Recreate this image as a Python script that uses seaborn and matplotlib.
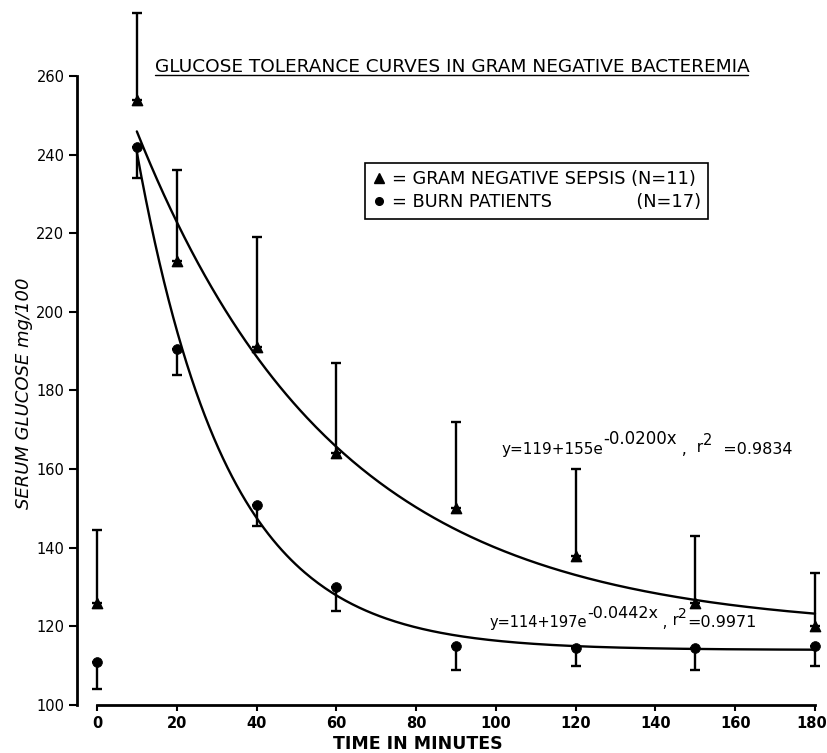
import numpy as np
import pandas as pd
import matplotlib
matplotlib.use("Agg")
import matplotlib.pyplot as plt
import matplotlib.transforms as mtransforms
import seaborn as sns
from matplotlib.lines import Line2D

# Sampling times (minutes) and group means with one-sided error extents (mg/100 ml)
time_points = [0, 10, 20, 40, 60, 90, 120, 150, 180]
sepsis_mean = [126, 254, 213, 191, 164, 150, 138, 126, 120]
sepsis_upper = [144.5, 276, 236, 219, 187, 172, 160, 143, 133.5]
burn_mean = [111, 242, 190.5, 151, 130, 115, 114.5, 114.5, 115]
burn_lower = [104, 234, 184, 145.5, 124, 109, 110, 109, 110]

# Fitted curves y = a + b * exp(-k x)
sepsis_fit = (119, 155, 0.0200)
burn_fit = (114, 197, 0.0442)
fit_range = (10, 180)

x_ticks = [0, 20, 40, 60, 80, 100, 120, 140, 160, 180]
y_ticks = [100, 120, 140, 160, 180, 200, 220, 240, 260]

sns.set_theme(style="ticks")
plt.rcParams["font.family"] = ["DejaVu Sans"]
plt.rcParams["text.color"] = "black"
plt.rcParams["axes.labelcolor"] = "black"
plt.rcParams["xtick.color"] = "black"
plt.rcParams["ytick.color"] = "black"

W, H = 828, 753
fig = plt.figure(figsize=(W / 100, H / 100), dpi=100)
fig.patch.set_facecolor("white")

def fx(px):
    return px / W

def fy(py):
    return 1 - py / H

ax = fig.add_axes([fx(77), fy(705), fx(823) - fx(77), fy(76) - fy(705)])
ax.set_facecolor("white")

# fitted exponential decay curves
xs = np.linspace(fit_range[0], fit_range[1], 300)
for a, b, k in (sepsis_fit, burn_fit):
    curve = pd.DataFrame({"t": xs, "g": a + b * np.exp(-k * xs)})
    sns.lineplot(data=curve, x="t", y="g", color="black", lw=1.7, ax=ax)

# error bars: upward for sepsis, downward for burns
t = np.array(time_points, dtype=float)
sm, su = np.array(sepsis_mean, float), np.array(sepsis_upper, float)
bm, bl = np.array(burn_mean, float), np.array(burn_lower, float)
eb1 = ax.errorbar(t, sm, yerr=[np.zeros_like(sm), su - sm], fmt="none",
                  ecolor="black", elinewidth=1.7, capsize=3.5, capthick=1.7)
eb2 = ax.errorbar(t, bm, yerr=[bm - bl, np.zeros_like(bm)], fmt="none",
                  ecolor="black", elinewidth=1.7, capsize=3.5, capthick=1.7)
for eb in (eb1, eb2):
    for cap in eb.lines[1]:
        cap.set_clip_on(False)
    for col in eb.lines[2]:
        col.set_clip_on(False)

# data points
sns.scatterplot(x=time_points, y=sepsis_mean, marker="^", s=55, color="black",
                edgecolor="black", linewidth=1.0, ax=ax, clip_on=False, zorder=5)
sns.scatterplot(x=time_points, y=burn_mean, marker="o", s=50, color="black",
                edgecolor="black", linewidth=0.5, ax=ax, clip_on=False, zorder=5)

ax.set_xlim(-5, 182)
ax.set_ylim(100, 260)
ax.set_xticks(x_ticks)
ax.set_yticks(y_ticks)
ax.set_xticklabels([str(v) for v in x_ticks], fontsize=10.5, fontweight="bold")
ax.set_yticklabels([str(v) for v in y_ticks], fontsize=10.5)
ax.set_xlabel("")
ax.set_ylabel("")
sns.despine(ax=ax)
ax.spines["left"].set_bounds(100, 260)
ax.spines["bottom"].set_bounds(0, 180)
for s in ("left", "bottom"):
    ax.spines[s].set_linewidth(2.0)
    ax.spines[s].set_color("black")
ax.tick_params(axis="y", direction="out", length=6, width=1.5, colors="black", pad=3)
ax.tick_params(axis="x", direction="out", length=4, width=1.5, colors="black", pad=4)
# keep the last x label inside the canvas
last = ax.get_xticklabels()[-1]
last.set_transform(last.get_transform() +
                   mtransforms.ScaledTranslation(-3 / 100, 0, fig.dpi_scale_trans))

# axis titles
fig.text(fx(418), fy(744), "TIME IN MINUTES", ha="center", va="center",
         fontsize=12.5, fontweight="bold")
fig.text(fx(24), fy(393), "SERUM GLUCOSE mg/100", ha="center", va="center",
         rotation=90, fontsize=13, style="italic")

# heading with underline
fig.text(fx(155), fy(72), "GLUCOSE TOLERANCE CURVES IN GRAM NEGATIVE BACTEREMIA",
         ha="left", va="baseline", fontsize=13.3)
fig.add_artist(Line2D([fx(155), fx(748)], [fy(75), fy(75)], color="black", lw=1.0))

# key
handles = [
    Line2D([], [], marker="^", color="black", linestyle="none", markersize=6.5),
    Line2D([], [], marker="o", color="black", linestyle="none", markersize=5.5),
]
labels = ["= GRAM NEGATIVE SEPSIS (N=11)", "= BURN PATIENTS               (N=17)"]
leg = ax.legend(handles, labels, loc="upper left",
                bbox_to_anchor=(fx(365), fy(163)), bbox_transform=fig.transFigure,
                borderaxespad=0, fontsize=12.8, frameon=True, fancybox=False,
                handlelength=0.8, handletextpad=0.3, borderpad=0.4,
                labelspacing=0.3)
leg.get_frame().set_edgecolor("black")
leg.get_frame().set_linewidth(1.2)
leg.get_frame().set_alpha(1)
for txt in leg.get_texts():
    txt.set_color("black")

# fit equations, built piece by piece; each piece is (text, size, rise in points)
def equation(x, y, pieces):
    base = ax.text(x, y, pieces[0][0], fontsize=pieces[0][1], ha="left",
                   va="bottom", color="black")
    prev = base
    for s, size, rise in pieces[1:]:
        prev = ax.annotate(s, xy=(1, 0), xycoords=(prev, base), xytext=(0, rise),
                           textcoords="offset points", fontsize=size,
                           ha="left", va="bottom", color="black")

equation(101.5, 163, [("y=119+155e", 11, 0), ("-0.0200x", 12, 7),
                      (" ,", 11, 0), ("  r", 11, 2), ("2", 10.5, 7),
                      ("  =0.9834", 11.5, 0)])
equation(98.5, 119, [("y=114+197e", 10.5, 0), ("-0.0442x", 11.5, 7),
                     (" ,", 10.5, 0), (" r", 10.5, 2), ("2", 10, 7),
                     ("=0.9971", 11.5, 0)])

fig.savefig("out.png", dpi=100, facecolor="white")
